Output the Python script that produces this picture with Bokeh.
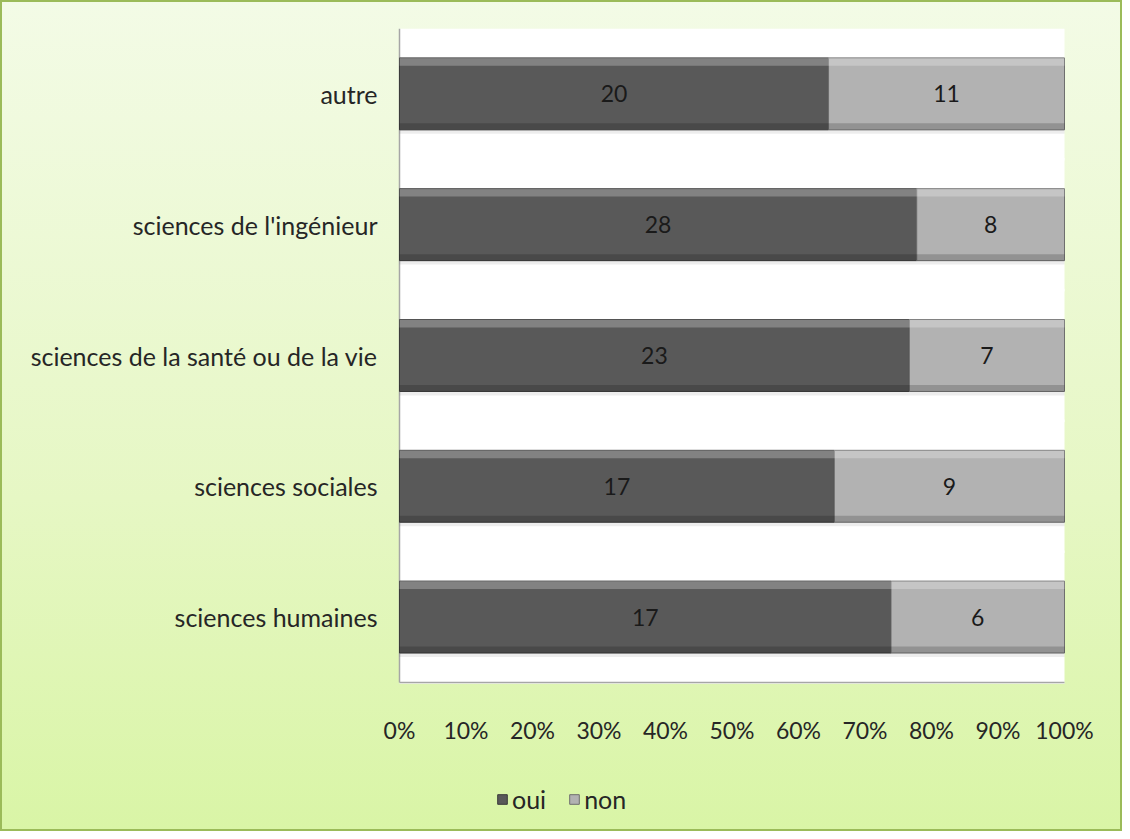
from bokeh.plotting import figure
from bokeh.models import (ColumnDataSource, Range1d, Legend, LegendItem, FixedTicker, LabelSet)
from bokeh.core.properties import value
from bokeh.transform import dodge
from bokeh.embed import file_html
from bokeh.resources import INLINE

# ---- data ----
categories = ["sciences humaines", "sciences sociales", "sciences de la santé ou de la vie",
              "sciences de l'ingénieur", "autre"]
oui = [17, 17, 23, 28, 20]
non = [6, 9, 7, 8, 11]
series_names = ["oui", "non"]
x_ticks = [0, 0.1, 0.2, 0.3, 0.4, 0.5, 0.6, 0.7, 0.8, 0.9, 1.0]

# ---- derived ----
n = len(categories)
pos = list(range(n))
tot = [a + b for a, b in zip(oui, non)]
oui_p = [a / t for a, t in zip(oui, tot)]
src = ColumnDataSource(dict(
    y=pos,
    oui_p=oui_p,
    zero=[0.0] * n,
    one=[1.0] * n,
    oui_mid=[p / 2 for p in oui_p],
    non_mid=[(p + 1) / 2 for p in oui_p],
    oui_lbl=[str(v) for v in oui],
    non_lbl=[str(v) for v in non],
))

FONT = "Lato"
W, H = 1122, 831
TOP, BOTTOM, LEFT, RIGHT = 28, 8, 380, 16
AREA_X0, AREA_X1 = 399, 1064            # white plot area, figure px
AREA_H = 654                            # white plot area height, px
frame_w = W - LEFT - RIGHT
frame_h = H - TOP - BOTTOM
ux = AREA_X1 - AREA_X0                  # px per 100 %
x_start = -(AREA_X0 - LEFT) / ux
x_end = x_start + frame_w / ux
uy = AREA_H / n                         # px per category
y_top = n - 0.5
y_bot = y_top - frame_h / uy

p = figure(width=W, height=H, x_range=Range1d(x_start, x_end), y_range=Range1d(y_bot, y_top),
           output_backend="svg", toolbar_location=None,
           min_border_left=LEFT, min_border_right=RIGHT, min_border_top=TOP, min_border_bottom=BOTTOM)
p.styles = {"background": "linear-gradient(to bottom, #f3fbe6 0%, #e6f7c4 60%, #d9f5a6 100%)",
            "box-shadow": "inset 0 0 0 2px #9bbb59"}
p.border_fill_alpha = 0
p.background_fill_alpha = 0
p.outline_line_color = None
p.grid.visible = False
p.xaxis.visible = False

# white plot area (one band per category, slightly overlapping to avoid seams)
p.hbar(y="y", left="zero", right="one", height=1.02, source=src, fill_color="white", line_color=None)
# plot area left / bottom border
p.segment(x0=[0, 0], y0=[-0.5, -0.5], x1=[0, 1], y1=[n - 0.5, -0.5], line_color="#a6a6a6", line_width=1.5)

BH = 0.55
# soft shadow under the bars
p.hbar(y=dodge("y", -0.03), left="zero", right="one", height=BH, source=src,
       fill_color="#000000", fill_alpha=0.07, line_color=None)
r_oui = p.hbar(y="y", left="zero", right="oui_p", height=BH, source=src,
               fill_color="#595959", line_color="#3a3a3a", line_width=1)
r_non = p.hbar(y="y", left="oui_p", right="one", height=BH, source=src,
               fill_color="#b2b2b2", line_color="#6e6e6e", line_width=1)
# bevel highlights / shades
p.hbar(y=dodge("y", BH / 2 - 0.03), left="zero", right="one", height=0.06, source=src,
       fill_color="white", fill_alpha=0.25, line_color=None)
p.hbar(y=dodge("y", -BH / 2 + 0.025), left="zero", right="one", height=0.05, source=src,
       fill_color="black", fill_alpha=0.18, line_color=None)

for col, lab in (("oui_mid", "oui_lbl"), ("non_mid", "non_lbl")):
    p.add_layout(LabelSet(x=col, y="y", text=lab, source=src, text_align="center",
                          text_baseline="middle", text_font=value(FONT), text_font_size="23px",
                          text_color="#1a1a1a"))

# x tick labels (percent) below the plot area
tick_src = ColumnDataSource(dict(x=x_ticks, y=[-0.5] * len(x_ticks),
                                 t=[f"{round(t * 100)}%" for t in x_ticks]))
p.text(x="x", y="y", text="t", source=tick_src, y_offset=47, text_align="center",
       text_baseline="middle", text_font=value(FONT), text_font_size="23px", text_color="#262626")

# y axis: category names
p.yaxis.ticker = FixedTicker(ticks=pos)
p.yaxis.major_label_overrides = {i: c for i, c in zip(pos, categories)}
p.yaxis.axis_line_color = None
p.yaxis.major_tick_line_color = None
p.yaxis.minor_tick_line_color = None
p.yaxis.major_label_standoff = -3
p.yaxis.major_label_text_font = FONT
p.yaxis.major_label_text_color = "#262626"
p.yaxis.major_label_text_font_size = "25px"

leg = Legend(items=[LegendItem(label=series_names[0], renderers=[r_oui]),
                    LegendItem(label=series_names[1], renderers=[r_non])],
             orientation="horizontal", location=(116, 9),
             background_fill_alpha=0, border_line_color=None,
             label_text_font=FONT, label_text_font_size="25px", label_text_color="#262626",
             glyph_width=12, glyph_height=12, spacing=22, label_standoff=4, padding=2)
p.add_layout(leg, "center")

open("out.html", "w").write(file_html(p, INLINE))
